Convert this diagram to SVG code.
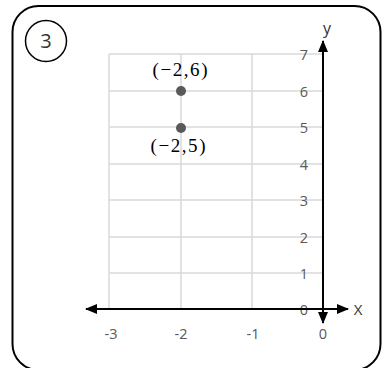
<svg xmlns="http://www.w3.org/2000/svg" width="382" height="368" viewBox="0 0 382 368">
<defs>
<style>
.grid{stroke:#d9d9d9;stroke-width:1.5;fill:none}
.axis{stroke:#000;stroke-width:2;fill:none}
.tick{font-family:"Open Sans","DejaVu Sans",sans-serif;font-size:14.5px;fill:#595959;text-anchor:middle}
.coord{font-family:"Liberation Serif","DejaVu Serif",serif;font-size:19px;fill:#000;text-anchor:middle}
.pt{fill:#595959}
</style>
<marker id="ah" viewBox="0 0 12 10" refX="11" refY="5" markerWidth="12" markerHeight="10" markerUnits="userSpaceOnUse" orient="auto">
<path d="M0,0 L12,5 L0,10 Z" fill="#000"/>
</marker>
</defs>
<rect width="382" height="368" fill="#fff"/>
<rect x="12.5" y="6" width="368" height="364" rx="26" fill="none" stroke="#000" stroke-width="2"/>
<g id="label3">
<circle cx="46" cy="41" r="20.5" fill="none" stroke="#000" stroke-width="1.5"/>
<text x="46" y="48" font-family="Open Sans,DejaVu Sans,sans-serif" font-size="20" fill="#333" text-anchor="middle">3</text>
</g>
<g id="grid">
<path class="grid" d="M109,54 V309 M181,54 V309 M252,54 V309 M109,54 H323 M109,91 H323 M109,127 H323 M109,164 H323 M109,200 H323 M109,237 H323 M109,273 H323"/>
</g>
<g id="ticks">
<text class="tick" x="304" y="60">7</text>
<text class="tick" x="304" y="97">6</text>
<text class="tick" x="304" y="133">5</text>
<text class="tick" x="304" y="170">4</text>
<text class="tick" x="304" y="206">3</text>
<text class="tick" x="304" y="243">2</text>
<text class="tick" x="304" y="279">1</text>
<text class="tick" x="304" y="315">0</text>
<text class="tick" x="111" y="339">-3</text>
<text class="tick" x="181" y="339">-2</text>
<text class="tick" x="253" y="339">-1</text>
<text class="tick" x="323" y="339">0</text>
</g>
<g id="connectors">
<line class="axis" x1="210" y1="309" x2="86" y2="309" marker-end="url(#ah)"/>
<line class="axis" x1="210" y1="309" x2="348" y2="309" marker-end="url(#ah)"/>
<line class="axis" x1="323" y1="200" x2="323" y2="41" marker-end="url(#ah)"/>
<line class="axis" x1="323" y1="200" x2="323" y2="323" marker-end="url(#ah)"/>
</g>
<g id="axis-labels">
<text x="358" y="315" font-family="Open Sans,DejaVu Sans,sans-serif" font-size="15" fill="#333" text-anchor="middle">X</text>
<text x="327" y="34" font-family="Open Sans,DejaVu Sans,sans-serif" font-size="16" fill="#333" text-anchor="middle">y</text>
</g>
<g id="point1">
<circle class="pt" cx="181" cy="91" r="5"/>
<text class="coord" x="180" y="76" textLength="55" lengthAdjust="spacing">(−2,6)</text>
</g>
<g id="point2">
<circle class="pt" cx="181" cy="128" r="5"/>
<text class="coord" x="178" y="152" textLength="55" lengthAdjust="spacing">(−2,5)</text>
</g>
</svg>
